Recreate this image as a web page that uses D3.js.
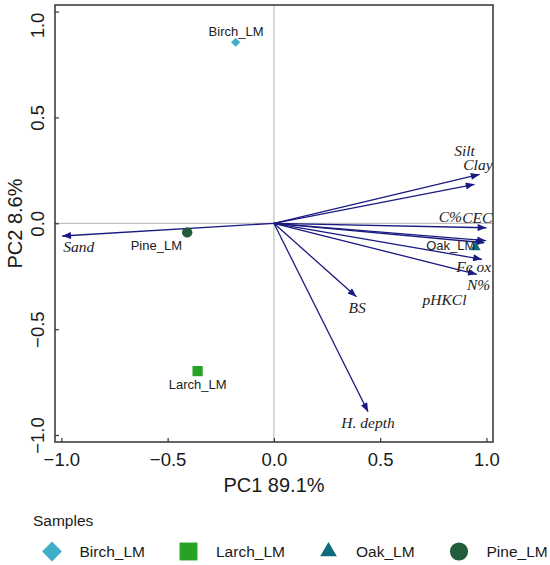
<!DOCTYPE html>
<html>
<head>
<meta charset="utf-8">
<script src="https://cdn.jsdelivr.net/npm/d3@7"></script>
<style>
  body { margin: 0; background: #fff; }
  svg { display: block; }
</style>
</head>
<body>
<svg id="chart" width="550" height="565"></svg>
<script>
// samples (PCA scores)
const samples = ["Birch_LM", "Larch_LM", "Oak_LM", "Pine_LM"];
const samplePC1 = [-0.18, -0.359, 0.949, -0.408];
const samplePC2 = [0.855, -0.698, -0.113, -0.043];
const sampleLabelPC1 = [-0.178, -0.359, 0.832, -0.553];
const sampleLabelPC2 = [0.908, -0.759, -0.103, -0.103];

// variables (loadings)
const variables = ["Silt", "Clay", "C%", "CEC", "pHKCl", "Fe ox", "N%", "BS", "H. depth", "Sand"];
const loadPC1 = [0.968, 0.944, 1.0, 0.998, 0.99, 0.979, 0.955, 0.388, 0.443, -0.996];
const loadPC2 = [0.231, 0.184, -0.021, -0.082, -0.092, -0.17, -0.241, -0.347, -0.89, -0.06];
const varLabelPC1 = [0.897, 0.96, 0.83, 0.957, 0.803, 0.94, 0.963, 0.392, 0.443, -0.918];
const varLabelPC2 = [0.343, 0.275, 0.034, 0.028, -0.359, -0.205, -0.291, -0.399, -0.942, -0.11];

const ticks = [-1.0, -0.5, 0.0, 0.5, 1.0];

const colors = ["#3fafc8", "#27a324", "#0f6b7a", "#235c3b"];
const arrowColor = "#1a1a82";

const svg = d3.select("#chart");
const box = { left: 55, right: 493, top: 5, bottom: 442 };

const x = d3.scaleLinear().domain([-1.03, 1.031]).range([box.left, box.right]);
const y = d3.scaleLinear().domain([-1.033, 1.031]).range([box.bottom, box.top]);

const fmt = d => d3.format(".1f")(d).replace("-", "\u2212");

// zero lines
svg.append("line")
    .attr("x1", x(0)).attr("x2", x(0))
    .attr("y1", box.top).attr("y2", box.bottom)
    .attr("stroke", "#b0b0b0").attr("stroke-width", 1);
svg.append("line")
    .attr("x1", box.left).attr("x2", box.right)
    .attr("y1", y(0)).attr("y2", y(0))
    .attr("stroke", "#b0b0b0").attr("stroke-width", 1);

// axes
const xAxis = svg.append("g")
    .attr("transform", `translate(0,${box.bottom})`)
    .call(d3.axisBottom(x).tickValues(ticks).tickFormat(fmt).tickSizeInner(-4).tickSizeOuter(0).tickPadding(11));
const yAxis = svg.append("g")
    .attr("transform", `translate(${box.left},0)`)
    .call(d3.axisLeft(y).tickValues(ticks).tickFormat(fmt).tickSizeInner(-4).tickSizeOuter(0));

[xAxis, yAxis].forEach(a => {
    a.select(".domain").remove();
    a.selectAll(".tick line").attr("stroke", "#333").attr("stroke-width", 1.2);
    a.selectAll("text")
        .attr("fill", "#1a1a1a")
        .style("font-family", "Liberation Sans, Arial, sans-serif")
        .style("font-size", "18.5px");
});

// rotated y labels; the top one is pushed down to stay inside the page
yAxis.selectAll("text")
    .attr("x", null).attr("dy", null)
    .attr("text-anchor", "middle")
    .attr("transform", d => {
        const shift = Math.max(0, 25 - y(d));
        return `translate(-11,${shift}) rotate(-90)`;
    });

// frame
svg.append("rect")
    .attr("x", box.left).attr("y", box.top)
    .attr("width", box.right - box.left).attr("height", box.bottom - box.top)
    .attr("fill", "none").attr("stroke", "#333").attr("stroke-width", 1.5);

// axis titles
svg.append("text")
    .attr("x", (box.left + box.right) / 2).attr("y", 492)
    .attr("text-anchor", "middle")
    .style("font-family", "Liberation Sans, Arial, sans-serif")
    .style("font-size", "20px").attr("fill", "#1a1a1a")
    .text("PC1 89.1%");
svg.append("text")
    .attr("transform", `translate(21.5,${(box.top + box.bottom) / 2}) rotate(-90)`)
    .attr("text-anchor", "middle")
    .style("font-family", "Liberation Sans, Arial, sans-serif")
    .style("font-size", "20px").attr("fill", "#1a1a1a")
    .text("PC2 8.6%");

// arrow marker
svg.append("defs").append("marker")
    .attr("id", "head")
    .attr("markerUnits", "userSpaceOnUse")
    .attr("viewBox", "0 0 10 8")
    .attr("refX", 10).attr("refY", 4)
    .attr("markerWidth", 10).attr("markerHeight", 7)
    .attr("orient", "auto")
    .append("path")
    .attr("d", "M0,0 L10,4 L0,8 Z")
    .attr("fill", arrowColor);

const varIdx = d3.range(variables.length);

svg.append("g")
    .selectAll("line")
    .data(varIdx)
    .enter()
    .append("line")
    .attr("x1", x(0)).attr("y1", y(0))
    .attr("x2", i => x(loadPC1[i]))
    .attr("y2", i => y(loadPC2[i]))
    .attr("stroke", arrowColor)
    .attr("stroke-width", 1.3)
    .attr("marker-end", "url(#head)");

svg.append("g")
    .selectAll("text")
    .data(varIdx)
    .enter()
    .append("text")
    .attr("x", i => x(varLabelPC1[i]))
    .attr("y", i => y(varLabelPC2[i]))
    .attr("dy", "0.35em")
    .attr("text-anchor", "middle")
    .style("font-family", "Liberation Serif, Times New Roman, serif")
    .style("font-style", "italic")
    .style("font-size", "15.5px")
    .attr("fill", "#222")
    .text(i => variables[i]);

// sample points
const shapes = [d3.symbolSquare, d3.symbolSquare, d3.symbolTriangle, d3.symbolCircle];
const plotSizes = [42, 105, 45, 85];
const legendSizes = [196, 320, 120, 260];
const rotations = [45, 0, 0, 0];
const smpIdx = d3.range(samples.length);

svg.append("g")
    .selectAll("path")
    .data(smpIdx)
    .enter()
    .append("path")
    .attr("d", i => d3.symbol().type(shapes[i]).size(plotSizes[i])())
    .attr("transform", i => `translate(${x(samplePC1[i])},${y(samplePC2[i])}) rotate(${rotations[i]})`)
    .attr("fill", i => colors[i]);

svg.append("g")
    .selectAll("text")
    .data(smpIdx)
    .enter()
    .append("text")
    .attr("x", i => x(sampleLabelPC1[i]))
    .attr("y", i => y(sampleLabelPC2[i]))
    .attr("dy", "0.35em")
    .attr("text-anchor", "middle")
    .style("font-family", "Liberation Sans, Arial, sans-serif")
    .style("font-size", "13px")
    .attr("fill", "#222")
    .text(i => samples[i]);

// legend
svg.append("text")
    .attr("x", 33).attr("y", 526)
    .style("font-family", "Liberation Sans, Arial, sans-serif")
    .style("font-size", "15.5px").attr("fill", "#1a1a1a")
    .text("Samples");

const legendX = [52, 188.5, 328.5, 459];
const legendG = svg.append("g").selectAll("g")
    .data(smpIdx)
    .enter()
    .append("g")
    .attr("transform", i => `translate(${legendX[i]},551.5)`);

legendG.append("path")
    .attr("d", i => d3.symbol().type(shapes[i]).size(legendSizes[i])())
    .attr("transform", i => `rotate(${rotations[i]})`)
    .attr("fill", i => colors[i]);

legendG.append("text")
    .attr("x", 27.5).attr("dy", "0.36em")
    .style("font-family", "Liberation Sans, Arial, sans-serif")
    .style("font-size", "15.5px").attr("fill", "#1a1a1a")
    .text(i => samples[i]);
</script>
</body>
</html>
